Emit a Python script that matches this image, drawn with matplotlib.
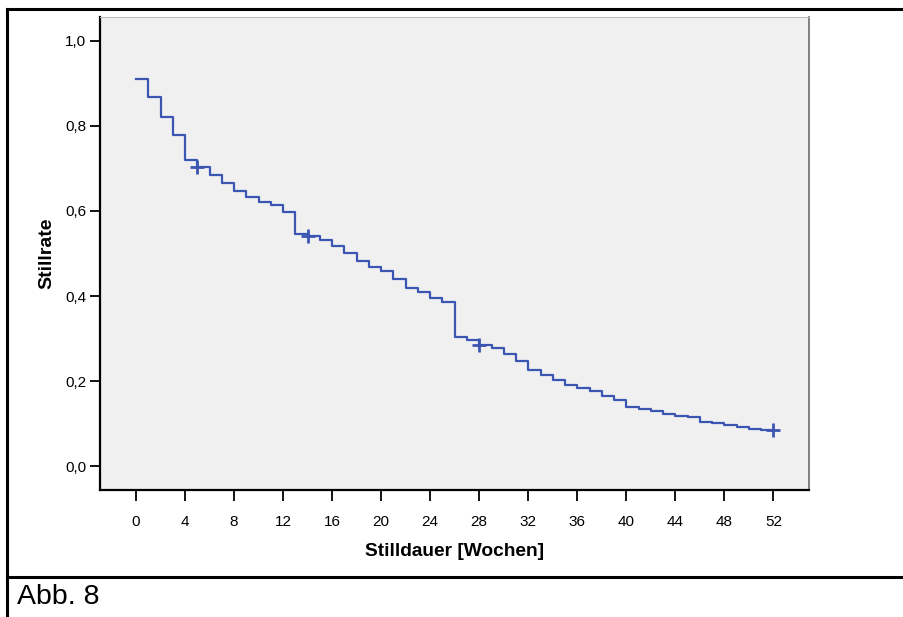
import matplotlib
matplotlib.use('Agg')
import matplotlib.pyplot as plt
from matplotlib.lines import Line2D
import numpy as np

plt.rcParams['font.family'] = ['Liberation Sans', 'DejaVu Sans']

# Kaplan-Meier step levels, one per week interval [k, k+1)
wochen = np.arange(0, 53)
stillrate = [0.911, 0.867, 0.820, 0.778, 0.719, 0.704, 0.685, 0.666, 0.646, 0.634,
             0.620, 0.614, 0.597, 0.547, 0.542, 0.532, 0.518, 0.502, 0.482, 0.469,
             0.459, 0.440, 0.420, 0.410, 0.395, 0.386, 0.303, 0.296, 0.286, 0.279,
             0.264, 0.247, 0.225, 0.215, 0.202, 0.191, 0.183, 0.177, 0.166, 0.156,
             0.140, 0.135, 0.130, 0.123, 0.118, 0.115, 0.105, 0.101, 0.096, 0.092,
             0.087, 0.085, 0.085]
zensiert_x = [5, 14, 28, 52]
zensiert_y = [0.704, 0.542, 0.286, 0.085]

x_ticks = list(range(0, 53, 4))
y_ticks = [0.0, 0.2, 0.4, 0.6, 0.8, 1.0]
y_labels = ['0,0', '0,2', '0,4', '0,6', '0,8', '1,0']

farbe = '#3b55b3'

fig = plt.figure(figsize=(9.04, 6.17), dpi=100)
ax = fig.add_axes([0.1106, 0.2058, 0.7843, 0.7666])
ax.set_facecolor('#f0f0f0')

ax.step(wochen, stillrate, where='post', color=farbe, lw=1.6)
ax.plot(zensiert_x, zensiert_y, '+', color=farbe, ms=10, mew=2)

ax.set_xlim(-2.94, 54.9)
ax.set_ylim(-0.056, 1.056)
ax.set_xticks(x_ticks)
ax.set_xticklabels([str(t) for t in x_ticks])
ax.set_yticks(y_ticks)
ax.set_yticklabels(y_labels)
ax.tick_params(axis='x', length=8, width=1.3, pad=10, labelsize=11, color='black')
ax.tick_params(axis='y', length=7, width=1.3, pad=3, labelsize=11, color='black')

for s in ['left', 'bottom']:
    ax.spines[s].set_color('black')
    ax.spines[s].set_linewidth(1.6)
ax.spines['right'].set_color('#777777')
ax.spines['right'].set_linewidth(1.3)
ax.spines['top'].set_color('#bbbbbb')
ax.spines['top'].set_linewidth(0.8)

ax.set_xlabel('Stilldauer [Wochen]', fontsize=13.8, fontweight='bold', labelpad=10)
ax.set_ylabel('Stillrate', fontsize=14, fontweight='bold', labelpad=7)

# table cell frame around the figure
lw = 2.2
fig.add_artist(Line2D([0.0077, 0.0077], [0.0, 0.9854], color='black', lw=lw))
fig.add_artist(Line2D([0.0077, 1.0], [0.9854, 0.9854], color='black', lw=lw))
fig.add_artist(Line2D([0.0077, 1.0], [0.0648, 0.0648], color='black', lw=lw))
fig.text(0.019, 0.032, 'Abb. 8', fontsize=20.5, va='center', ha='left')

fig.savefig('out.png', dpi=100, facecolor='white')
